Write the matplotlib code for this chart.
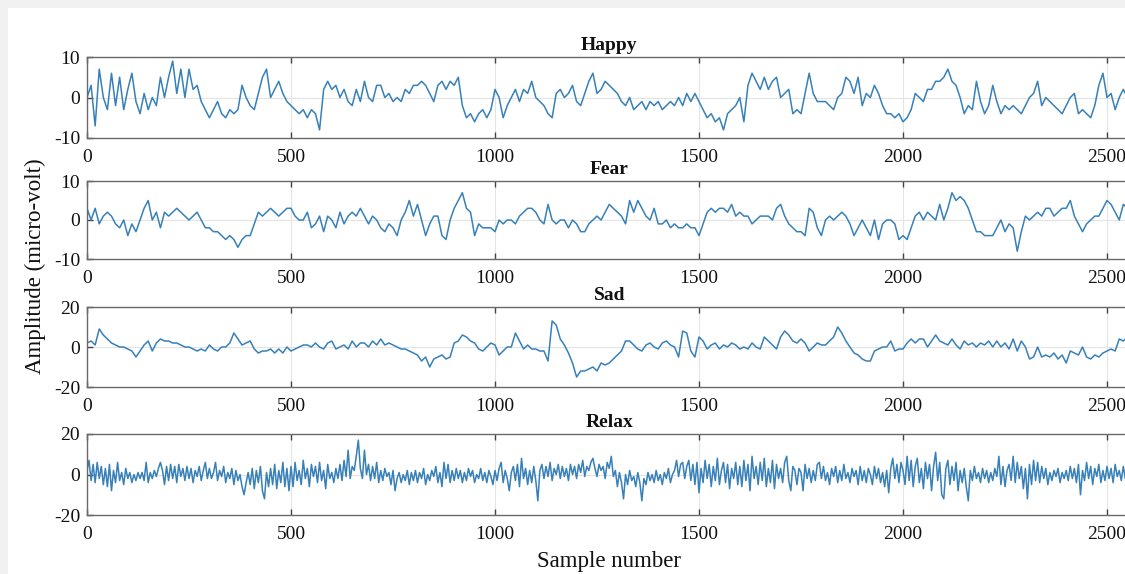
import numpy as np
import matplotlib
matplotlib.use('Agg')
import matplotlib.pyplot as plt
from matplotlib.patches import Rectangle

# values, one every 10 samples (Relax: every 5)
happy = [
    0, 3, -7, 7, 0, -3, 6, -2, 5, -3,
    2, 6, -1, -4, 1, -3, 0, -2, 5, 0,
    5, 9, 1, 7, 0, 7, 2, 3, -1, -3,
    -5, -3, -1, -4, -5, -3, -4, -3, 3, 0,
    -2, -3, 1, 5, 7, 0, 2, 4, 1, -1,
    -2, -3, -4, -3, -5, -3, -4, -8, 2, 4,
    2, 3, 0, 2, -1, -2, 2, -1, 4, 0,
    -1, 3, 3, 0, 1, -1, 0, -1, 2, 1,
    3, 3, 4, 3, 1, -1, 3, 4, 2, 4,
    3, 5, -2, -5, -4, -6, -4, -3, -5, -3,
    2, 0, -5, -2, 0, 2, -1, 2, 1, 4,
    0, -1, -2, -4, -5, 1, 2, 0, 1, 3,
    -1, -2, 1, 4, 6, 1, 2, 4, 3, 2,
    1, -1, -2, 0, -3, -2, -1, -3, -1, -2,
    -1, -3, -2, -1, -2, 0, -2, 1, -1, 1,
    -1, -3, -5, -4, -6, -5, -8, -4, -3, -2,
    0, -6, 3, 6, 4, 2, 5, 2, 4, 5,
    0, 1, 2, -4, -3, -4, 1, 6, 1, -1,
    -1, -1, -2, -3, 0, 1, 5, 4, 1, 5,
    -2, 1, 0, 3, 1, -2, -4, -4, -5, -4,
    -6, -5, -3, 1, 0, -1, 2, 2, 4, 4,
    5, 7, 4, 3, 0, -4, -2, -3, 4, -1,
    -4, -2, 3, -1, -4, -2, -3, -2, -3, -4,
    -2, 0, 1, 4, -2, 0, -1, -2, -3, -4,
    -2, 0, 1, -4, -3, -4, -5, -2, 3, 6,
    0, 1, -3, 0, 2, 0,
]

fear = [
    3, 0, 3, -1, 1, 2, 1, -1, -2, 0,
    -4, -1, -3, 0, 3, 5, 0, 2, -2, 2,
    1, 2, 3, 2, 1, 0, 1, 2, 0, -2,
    -2, -3, -3, -4, -5, -4, -5, -7, -5, -4,
    -4, -1, 2, 1, 2, 3, 2, 1, 2, 3,
    3, 1, 0, 0, 2, -2, -1, 1, -3, 1,
    0, -2, 2, -1, 1, 2, 1, 3, 1, -1,
    1, 0, -2, -3, -1, -2, -4, 0, 2, 5,
    1, 4, 0, -4, -1, 1, 1, -4, -5, 0,
    3, 5, 7, 3, 2, -4, -1, -2, -2, -2,
    -3, 0, -1, 0, 0, -1, 1, 2, 3, 3,
    2, 0, -1, 4, 0, -1, 0, 0, -2, 0,
    -1, -3, -3, -1, 0, 1, 0, 2, 4, 3,
    2, 1, -1, 5, 2, 5, 3, 1, 0, 3,
    -1, -1, 0, -2, -1, -2, -2, -1, -2, -2,
    -4, -1, 2, 3, 2, 3, 3, 2, 4, 1,
    2, 1, 1, -1, 0, 1, 1, 1, 0, 3,
    4, 1, -1, -2, -3, -3, -4, 3, 2, -2,
    -4, 0, 1, 0, 1, 2, 1, -1, -4, -2,
    0, -2, -4, 0, -5, -1, 0, 0, -1, -5,
    -4, -5, -2, 1, 2, 0, 2, 1, 0, 4,
    0, 3, 7, 5, 6, 5, 3, 0, -3, -3,
    -4, -4, -4, -2, 0, -3, -1, -2, -8, -3,
    1, 0, 1, 2, 1, 3, 3, 1, 2, 3,
    3, 5, 1, -1, -3, -1, 0, 1, 1, 3,
    5, 4, 2, 0, 4, 3,
]

sad = [
    2, 3, 1, 9, 6, 4, 2, 1, 0, 0,
    -1, -2, -5, -2, 1, 3, -2, 2, 4, 3,
    3, 2, 2, 1, 0, 0, -1, -2, -1, -2,
    1, -1, -2, 0, 0, 2, 7, 4, 1, 2,
    3, -1, -3, -2, -2, -1, -3, -1, -3, 0,
    -2, -1, 0, 1, 1, 0, 2, 0, -1, 2,
    3, -1, 0, 1, -1, 3, 0, 2, 2, 0,
    3, 1, 4, 1, 2, 1, 0, -1, -1, -2,
    -3, -4, -7, -5, -10, -6, -5, -4, -6, -5,
    2, 3, 6, 5, 3, 2, -1, -2, 0, 2,
    1, -4, -2, 0, 0, 7, 3, -1, 1, -1,
    -1, -2, -2, -7, 13, 11, 4, 1, -3, -8,
    -15, -12, -12, -11, -10, -12, -8, -9, -8, -6,
    -4, -2, 3, 3, 1, -1, -2, 1, 2, 0,
    -1, 2, 3, 1, 0, -5, 8, 7, -2, -5,
    5, 3, -1, 1, 2, -1, 1, 0, 2, 1,
    -1, 0, -1, 2, 0, -1, 5, 3, 1, -1,
    5, 8, 6, 3, 2, 4, 2, -2, 0, 2,
    1, 1, 3, 5, 10, 7, 3, 0, -3, -4,
    -6, -7, -7, -2, -1, 0, 0, 3, -2, -1,
    -1, 2, 4, 2, 4, 4, 0, 3, 6, 3,
    2, 1, 4, 1, -1, 3, 1, 2, 0, 2,
    1, 3, 0, 3, 0, 2, -1, 4, -2, 3,
    0, -6, -5, 0, -5, -4, -5, -3, -6, -4,
    -8, -2, -3, -4, 0, -5, -6, -4, -5, -3,
    -2, -1, -2, 4, 3, 5,
]

relax = [
    2, 7, -3, 5, -4, 6, -2, 4, -5, 3, -6, 5, -8, 2, -4, 6, -3, 1, -5, 3,
    -2, 1, -4, 0, -3, 1, -2, 1, -3, 6, -4, 1, -2, 2, -1, 3, 6, 2, -5, 4,
    -3, 5, -2, 4, -4, 5, -1, 3, -3, 4, -2, 3, -4, 2, -1, 4, -3, 2, 6, -2,
    3, -2, 1, 6, -3, 2, -1, 4, -4, 1, -2, 3, -5, 2, -3, 0, -6, -10, -4, 1,
    -5, 3, -7, 2, -4, 4, -8, -12, 1, -6, 3, -5, 5, -7, 2, -4, 6, -6, 3, -8,
    4, -6, 6, -3, 2, -5, 7, -2, 3, -6, 5, -1, 4, -4, 6, -3, 2, -7, 5, -2,
    1, -4, 3, -2, 5, -3, 7, -1, 12, -2, 4, 2, 9, 17, 3, -2, 12, 0, 5, -3,
    4, -2, 6, -4, 2, -3, 3, -1, 1, -5, 2, -8, -2, 1, -4, 0, -3, 2, -5, 1,
    -3, 2, -4, 1, -2, 3, -5, 0, -3, 2, -1, 4, -4, 1, -6, 6, -2, 5, -4, 2,
    -3, 3, -2, 2, -4, 1, -3, 3, -1, 2, -4, 0, -2, 3, -3, 1, -4, 2, -1, -5,
    2, -3, 3, 6, -4, 2, -2, -8, 1, 4, -3, 5, -6, 8, -2, 3, -5, 2, -4, 4,
    -3, -13, 2, 5, -2, 4, -1, 6, -3, 3, 0, 5, -2, 4, -1, 3, -3, 5, 0, 4,
    -2, 5, 1, 7, -1, 4, 2, 6, 8, 3, -1, 5, 2, 4, -2, 6, 3, 9, -1, 2,
    -6, 1, -4, -12, 0, -5, 2, -3, -1, -6, 1, -4, -13, -2, -5, 1, -3, 0, -4, 2,
    -3, 0, -5, 1, -2, 3, -4, 0, 2, 7, -1, 5, 6, -2, 4, 7, -3, 5, -5, 6,
    -9, 3, -4, 7, -2, 5, -6, 4, -3, 8, -5, 2, 6, -4, 5, -7, 3, -2, 6, -5,
    4, -6, 7, -3, 5, -8, 9, -2, 4, -5, 6, -3, 8, -6, 3, -4, 7, -7, 5, -2,
    3, -4, 6, 9, -3, -8, 4, 2, -5, 3, 1, -8, 5, -2, 3, -4, 2, -3, 5, 6,
    -2, 4, -3, 1, -5, 3, -1, 4, -4, 2, -3, 5, -2, 1, -4, 3, -1, 2, -5, 4,
    -3, 2, -4, 3, 0, -5, 4, -2, 3, -4, 1, -6, 2, -9, 3, 8, -2, 5, -4, 6,
    2, -5, 9, -3, 7, -6, 4, 8, -4, 3, -7, 6, -2, 5, -8, 4, 11, -3, 6, -10,
    -12, 3, 7, -5, 4, -3, 6, -8, 2, -4, 3, -6, -13, 2, -3, 4, -2, 1, -4, 3,
    -2, 2, -4, 1, -3, 3, -1, 9, -5, 4, -6, 2, 5, -3, 9, -4, 6, -2, 4, -7,
    3, -12, 5, -5, 7, -3, 6, -4, 4, -2, 3, -5, 1, -3, 2, -1, 3, -4, 1, -2,
    2, -3, 4, -2, 3, -4, 5, -10, 2, -3, 6, -2, 4, -5, 3, -1, 5, -4, 2, -3,
    4, -2, 3, -4, 5, -1, 2, -3, 4, -2, 3, 1,
]

titles = ['Happy', 'Fear', 'Sad', 'Relax']
steps = [10, 10, 10, 5]
y_limits = [10, 10, 20, 20]
x_ticks = [0, 500, 1000, 1500, 2000, 2500]

W, H = 1125, 574


def setup_fonts():
    plt.rcParams['font.family'] = ['Liberation Serif', 'DejaVu Serif']
    plt.rcParams['axes.unicode_minus'] = False


def panel(fig, top_px, bottom_px):
    # axes box given in pixels of the reference picture
    left = 87 / W
    width = 2560 * 0.408 / W
    return fig.add_axes([left, 1 - bottom_px / H, width, (bottom_px - top_px) / H])


def draw_panel(ax, values, step, lim, title):
    x = np.arange(len(values)) * step
    ax.plot(x, values, color='#3780b8', linewidth=1.1)
    ax.set_xlim(0, 2560)
    ax.set_ylim(-lim, lim)
    ax.set_xticks(x_ticks)
    ax.set_yticks([-lim, 0, lim])
    ax.grid(True, color='#e4e4e4', linewidth=0.8)
    ax.set_axisbelow(True)
    ax.tick_params(direction='in', top=True, right=True, length=4.5,
                   width=1.0, color='#444444', labelsize=14, labelcolor='#111111')
    ax.tick_params(axis='x', pad=8)
    ax.tick_params(axis='y', pad=5)
    for s in ax.spines.values():
        s.set_color('#6a6a6a')
        s.set_linewidth(1.0)
    ax.set_title(title, fontsize=14, fontweight='bold', pad=5, color='#111111')


def main():
    setup_fonts()
    fig = plt.figure(figsize=(W / 100, H / 100), dpi=100, facecolor='#f1f1f1')
    fig.patches.append(Rectangle((8 / W, 0), 1, 1 - 8 / H, transform=fig.transFigure,
                                 facecolor='white', edgecolor='none', zorder=-10))

    boxes = [(57, 138), (181, 259), (307, 387), (434, 515)]
    series = [happy, fear, sad, relax]
    for (top, bottom), vals, step, lim, title in zip(boxes, series, steps, y_limits, titles):
        ax = panel(fig, top, bottom)
        draw_panel(ax, vals, step, lim, title)

    fig.text(35 / W, 1 - 266 / H, 'Amplitude (micro-volt)', rotation=90,
             ha='center', va='center', fontsize=16.5, color='#111111')
    fig.text(609 / W, 1 - 562 / H, 'Sample number', ha='center', va='center',
             fontsize=16.5, color='#111111')

    fig.savefig('out.png', dpi=100, facecolor=fig.get_facecolor())


if __name__ == '__main__':
    main()
